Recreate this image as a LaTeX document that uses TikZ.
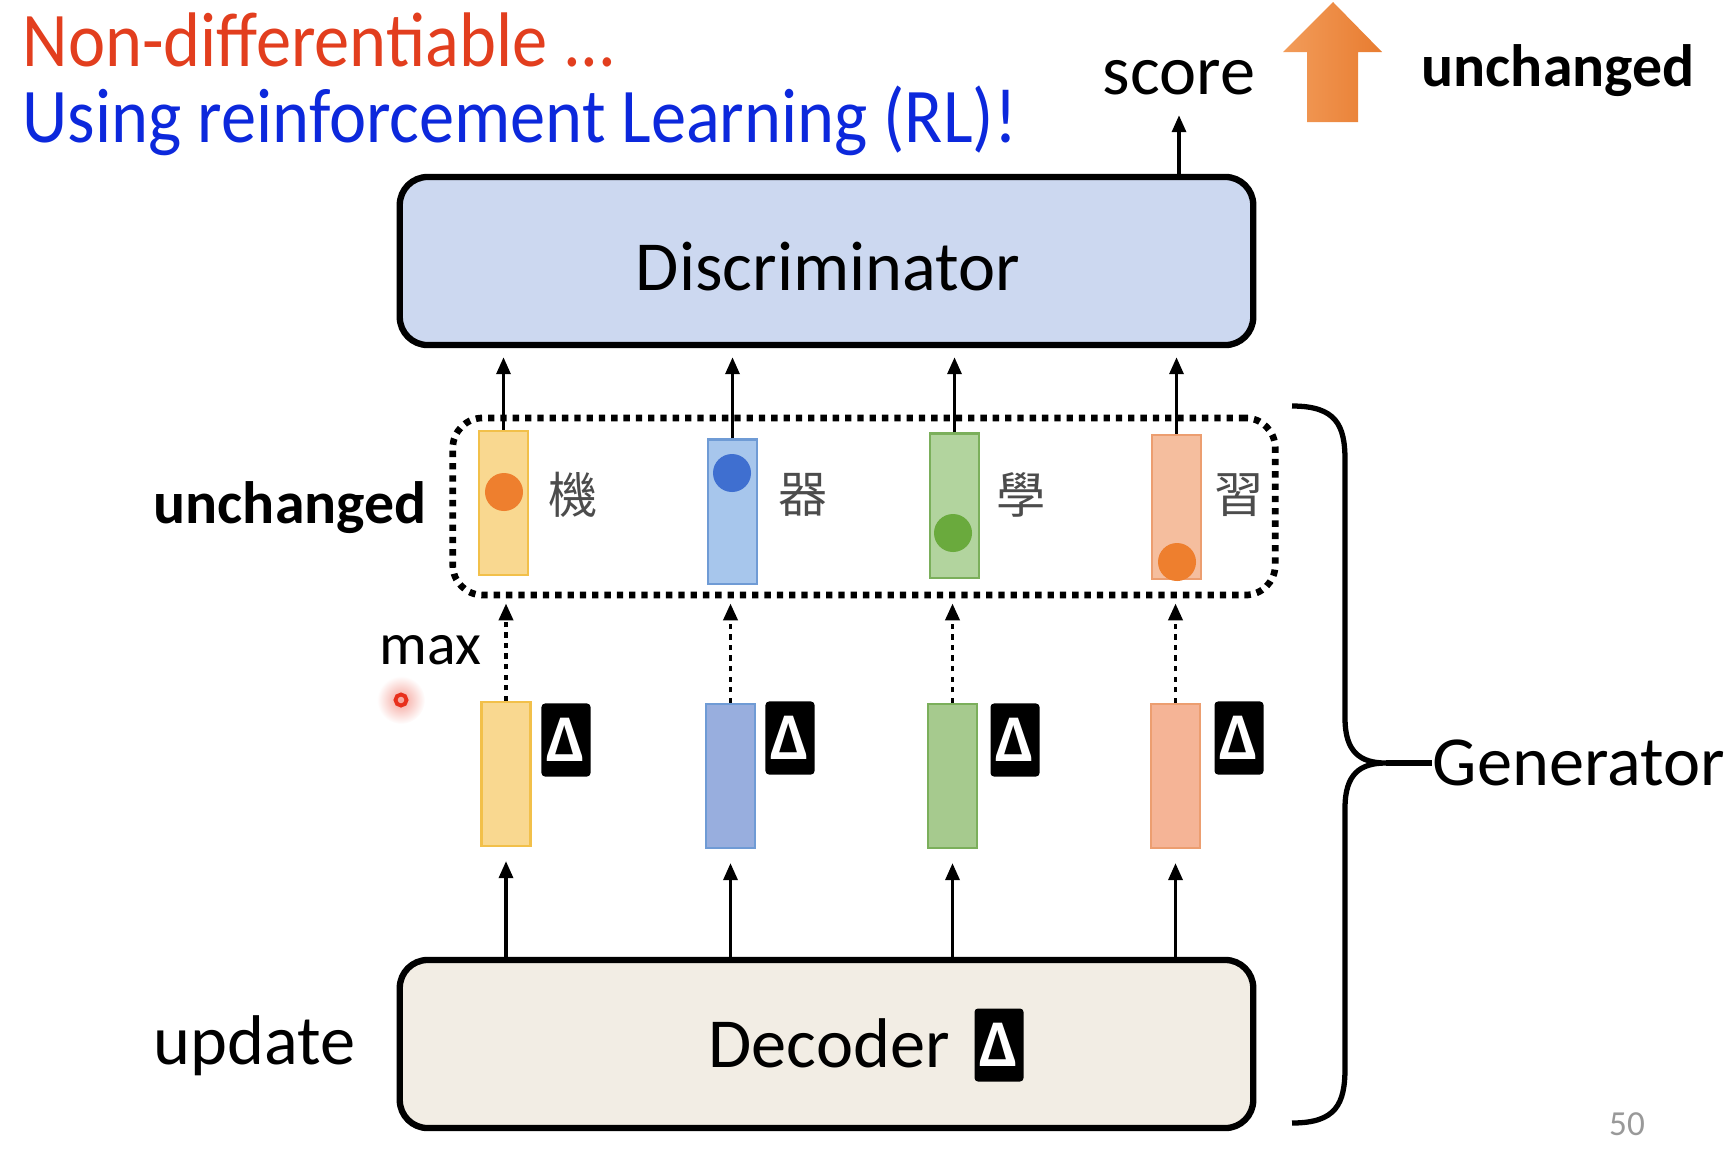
\documentclass[tikz,border=0pt]{standalone}
\usepackage{fontspec}
\setmainfont{Carlito}
\newfontfamily\titlefont[FakeStretch=0.91]{Carlito}
\newfontfamily\cjkfont{Noto Sans CJK TC}
\usetikzlibrary{arrows.meta,positioning}

\definecolor{titlered}{RGB}{226,62,30}
\definecolor{titleblue}{RGB}{12,40,220}
\definecolor{discfill}{RGB}{204,216,240}
\definecolor{decfill}{RGB}{242,237,228}
\definecolor{arrowlight}{RGB}{242,156,90}
\definecolor{arrowdark}{RGB}{232,124,48}
\definecolor{yelfill}{RGB}{249,216,144}
\definecolor{yeldraw}{RGB}{242,192,74}
\definecolor{bluefill}{RGB}{167,198,236}
\definecolor{bluedraw}{RGB}{111,155,213}
\definecolor{lbluefill}{RGB}{152,174,222}
\definecolor{greenfill}{RGB}{178,212,158}
\definecolor{lgreenfill}{RGB}{166,202,142}
\definecolor{greendraw}{RGB}{123,175,91}
\definecolor{orfill}{RGB}{245,190,158}
\definecolor{ordraw}{RGB}{236,158,112}
\definecolor{dotorange}{RGB}{238,127,46}
\definecolor{dotblue}{RGB}{63,111,208}
\definecolor{dotgreen}{RGB}{106,170,61}
\definecolor{pointred}{RGB}{232,48,28}

\tikzset{
  lbl/.style={inner sep=0pt},
  bigbox/.style={draw, line width=1.8pt, rounded corners=0.28cm, minimum width=8.53cm, minimum height=1.68cm},
  vecbox/.style={draw, line width=0.6pt, minimum width=0.49cm, minimum height=1.44cm, inner sep=0pt},
  deltabox/.style={fill=black, rounded corners=1pt, minimum width=0.49cm, minimum height=0.73cm, inner sep=0pt,
    text=white, font=\fontsize{19}{19}\selectfont\bfseries},
  word/.style={lbl, text=black!70, font=\cjkfont\fontsize{14}{14}\selectfont},
  arr/.style={-{Triangle[length=0.17cm, width=0.14cm]}, line width=0.95pt},
  dotarr/.style={arr, line width=1.1pt, dash pattern=on 1.5pt off 1.5pt}
}

\begin{document}
\begin{tikzpicture}[x=0.01cm, y=-0.01cm, every node/.style={font=\fontsize{20}{24}\selectfont}]
  \useasboundingbox (0,0) rectangle (1734,1148);

  \node[lbl, anchor=base west, text=titlered, font=\titlefont\fontsize{22}{26}\selectfont] (nondiff) at (22,66) {Non-differentiable ...};
  \node[lbl, anchor=base west, text=titleblue, font=\titlefont\fontsize{22}{26}\selectfont] (usingrl) at (22,142) {Using reinforcement Learning (RL)!};

  \node[bigbox, fill=discfill] (disc) at (826.5,261) {};
  \node[lbl, anchor=base] (disctxt) at (828,290) {Discriminator};
  \node[bigbox, fill=decfill] (dec) at (826.5,1044) {};
  \node[lbl, anchor=base west] (dectxt) at (708,1067) {Decoder};
  \node[deltabox] (decdelta) at (999,1045) {Δ};

  \node[lbl, anchor=base] (score) at (1179,94) {score};
  \shade[left color=arrowlight, right color=arrowdark] (1333,2) -- (1382,52) -- (1358,52) -- (1358,122)
    -- (1307,122) -- (1307,52) -- (1283,52) -- cycle;
  \node[lbl, anchor=base west, font=\fontsize{17}{20}\selectfont\bfseries] (unchtop) at (1421,86) {unchanged};
  \draw[arr, shorten >=0.2cm] (disc.north -| score) -- (score.south);

  % sampled words
  \node[draw, line width=1.9pt, dash pattern=on 1.8pt off 1.7pt, rounded corners=0.3cm,
    minimum width=8.22cm, minimum height=1.77cm] (group) at (864,506.5) {};
  \node[vecbox, fill=yelfill, draw=yeldraw] (u1) at (503.5,503) {};
  \node[vecbox, fill=bluefill, draw=bluedraw] (u2) at (732.5,511.5) {};
  \node[vecbox, fill=greenfill, draw=greendraw] (u3) at (954.5,505.5) {};
  \node[vecbox, fill=orfill, draw=ordraw] (u4) at (1176.5,507) {};
  \fill[dotorange] (504,492) circle (0.19cm);
  \fill[dotblue] (732,473) circle (0.19cm);
  \fill[dotgreen] (953,533) circle (0.19cm);
  \fill[dotorange] (1177,562) circle (0.19cm);
  \node[word] (w1) at (573,495) {機};
  \node[word] (w2) at (803,495) {器};
  \node[word] (w3) at (1021,495) {學};
  \node[word] (w4) at (1239,495) {習};
  \node[lbl, anchor=base west, font=\fontsize{17}{20}\selectfont\bfseries] (unchleft) at (153,523) {unchanged};

  % decoder outputs
  \node[vecbox, fill=yelfill, draw=yeldraw] (l1) at (506,774) {};
  \node[vecbox, fill=lbluefill, draw=bluedraw] (l2) at (730.5,776) {};
  \node[vecbox, fill=lgreenfill, draw=greendraw] (l3) at (952.5,776) {};
  \node[vecbox, fill=orfill!95!red, draw=ordraw] (l4) at (1175.5,776) {};
  \node[deltabox] (d1) at (566,740) {Δ};
  \node[deltabox] (d2) at (790,738) {Δ};
  \node[deltabox] (d3) at (1015,740) {Δ};
  \node[deltabox] (d4) at (1239,738) {Δ};
  \node[lbl, anchor=base west, font=\fontsize{17}{20}\selectfont] (max) at (379,664) {max};
  \shade[inner color=pointred!45, outer color=white] (401,700) circle (0.24cm);
  \draw[pointred, line width=1.1pt] (401,700) circle (0.055cm);
  \node[lbl, anchor=base west] (update) at (153,1064) {update};

  \draw[arr, shorten >=0.14cm] (dec.north -| l1) -- (l1.south);
  \draw[arr, shorten >=0.14cm] (dec.north -| l2) -- (l2.south);
  \draw[arr, shorten >=0.14cm] (dec.north -| l3) -- (l3.south);
  \draw[arr, shorten >=0.14cm] (dec.north -| l4) -- (l4.south);
  \draw[dotarr, shorten >=0.05cm] (l1.north) -- (group.south -| l1);
  \draw[dotarr, shorten >=0.05cm] (l2.north) -- (group.south -| l2);
  \draw[dotarr, shorten >=0.05cm] (l3.north) -- (group.south -| l3);
  \draw[dotarr, shorten >=0.05cm] (l4.north) -- (group.south -| l4);
  \draw[arr, shorten >=0.09cm] (u1.north) -- (disc.south -| u1);
  \draw[arr, shorten >=0.09cm] (u2.north) -- (disc.south -| u2);
  \draw[arr, shorten >=0.09cm] (u3.north) -- (disc.south -| u3);
  \draw[arr, shorten >=0.09cm] (u4.north) -- (disc.south -| u4);

  % generator brace
  \coordinate (bracetip) at (1386,763);
  \draw[line width=1.5pt] (1292,406) .. controls (1336,406) and (1345,425) .. (1345,460) -- (1345,718)
    .. controls (1345,752) and (1360,763) .. (bracetip)
    .. controls (1360,763) and (1345,774) .. (1345,808) -- (1345,1068)
    .. controls (1345,1104) and (1336,1123) .. (1292,1123);
  \node[lbl, anchor=base west] (gen) at (1432,785) {Generator};
  \draw[line width=1.5pt] (bracetip) -- (gen.west |- bracetip);

  \node[lbl, anchor=base, text=black!40, font=\fontsize{10}{12}\selectfont] (pagenum) at (1627,1135) {50};
\end{tikzpicture}
\end{document}
